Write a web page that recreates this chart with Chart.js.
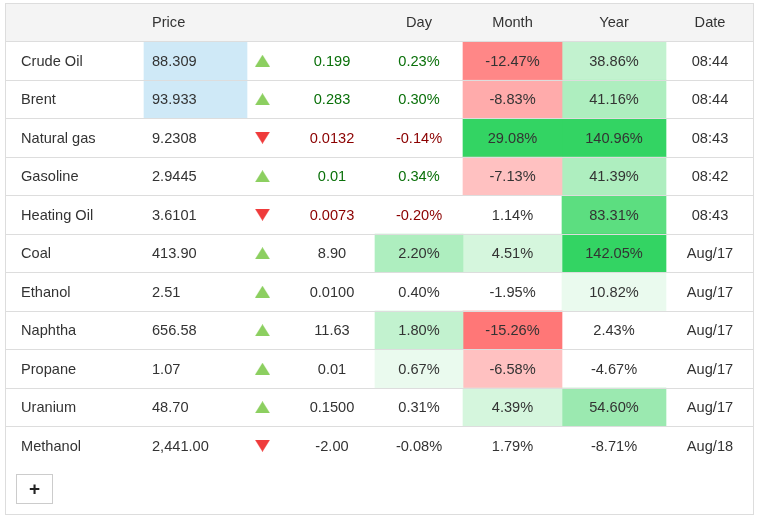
<!DOCTYPE html>
<html><head><meta charset="utf-8">
<script src="https://cdn.jsdelivr.net/npm/chart.js@4/dist/chart.umd.min.js"></script>
<style>html,body{margin:0;padding:0;background:#fff;}#wrap{width:760px;height:519px;}</style>
</head><body><div id="wrap"><canvas id="c" width="760" height="519"></canvas></div>
<script>
// ---------- data ----------
const names = ['Crude Oil','Brent','Natural gas','Gasoline','Heating Oil','Coal','Ethanol','Naphtha','Propane','Uranium','Methanol'];
const prices = ['88.309','93.933','9.2308','2.9445','3.6101','413.90','2.51','656.58','1.07','48.70','2,441.00'];
const changes = ['0.199','0.283','0.0132','0.01','0.0073','8.90','0.0100','11.63','0.01','0.1500','-2.00'];
const direction = [1,1,-1,1,-1,1,1,1,1,1,-1];
const dayPct = [0.23,0.30,-0.14,0.34,-0.20,2.20,0.40,1.80,0.67,0.31,-0.08];
const monthPct = [-12.47,-8.83,29.08,-7.13,1.14,4.51,-1.95,-15.26,-6.58,4.39,1.79];
const yearPct = [38.86,41.16,140.96,41.39,83.31,142.05,10.82,2.43,-4.67,54.60,-8.71];
const dates = ['08:44','08:44','08:43','08:42','08:43','Aug/17','Aug/17','Aug/17','Aug/17','Aug/17','Aug/18'];
const headers = ['', 'Price', '', '', 'Day', 'Month', 'Year', 'Date'];
const priceHighlight = [true,true,false,false,false,false,false,false,false,false,false];
const liveRows = [true,true,true,true,true,false,false,false,false,false,false];
// heat levels (+ green, - red, 0 none)
const dayHeat   = [0,0,0,0,0,4,0,3,1,0,0];
const monthHeat = [-3,-2,7,-1,0,2,0,-4,-1,2,0];
const yearHeat  = [3,4,7,4,6,7,1,0,0,5,0];

// ---------- layout / style ----------
const TABLE_W = 749;
const COL = [0,139,242,284,370,458,557,661,749];
const GREEN = {1:'#eafaee',2:'#d5f6dd',3:'#c2f2cf',4:'#aeeebf',5:'#9be9b0',6:'#5cde80',7:'#33d463'};
const RED = {1:'#ffc1c1',2:'#ffabab',3:'#ff8787',4:'#ff7777'};
const heatColor = l => l > 0 ? GREEN[l] : (l < 0 ? RED[-l] : 'rgba(0,0,0,0)');
const FONT = '14.6px "Liberation Sans", Arial, sans-serif';
const TXT = '#333333', UPTXT = '#0a700a', DNTXT = '#8b0000', LINE = '#dddddd';

function tri(up, color){
  const c = document.createElement('canvas'); c.width = 15; c.height = 12;
  const g = c.getContext('2d'); g.fillStyle = color; g.beginPath();
  if (up){ g.moveTo(0,12); g.lineTo(7.5,0); g.lineTo(15,12); }
  else { g.moveTo(0,0); g.lineTo(15,0); g.lineTo(7.5,12); }
  g.closePath(); g.fill(); return c;
}
const upImg = tri(true,'#8ccf60'), dnImg = tri(false,'#ef3b3b');

const rowLabels = ['header', ...names];
const span = c => [COL[c], COL[c+1]];
const barStyle = {grouped:false, barPercentage:1, categoryPercentage:1, borderWidth:0};
const heatSet = (col, heat) => Object.assign({
  data: [null, ...heat.map(h => h ? span(col) : null)],
  backgroundColor: ctx => heatColor(heat[ctx.dataIndex-1] || 0)
}, barStyle);

const tablePlugin = {
  id:'tableText',
  afterDatasetsDraw(chart){
    const {ctx, chartArea:a, scales:{x, y}} = chart;
    ctx.save();
    // row lines (between categories)
    ctx.fillStyle = LINE;
    for (let i = 1; i < rowLabels.length; i++){
      const yy = (y.getPixelForValue(i-1) + y.getPixelForValue(i)) / 2;
      ctx.fillRect(a.left, Math.floor(yy), a.right - a.left, 1);
    }
    // outer border
    ctx.strokeStyle = LINE; ctx.lineWidth = 1;
    ctx.strokeRect(a.left + 0.5, a.top + 0.5, a.right - a.left - 1, a.bottom - a.top + 49);
    // text
    ctx.font = FONT; ctx.textBaseline = 'middle';
    const cx = c => x.getPixelForValue((COL[c] + COL[c+1]) / 2);
    const lx = (c, pad) => x.getPixelForValue(COL[c]) + pad;
    const hy = y.getPixelForValue(0) + 1;
    ctx.fillStyle = TXT;
    headers.forEach((h, c) => {
      if (!h) return;
      if (c === 1){ ctx.textAlign = 'left'; ctx.fillText(h, lx(1, 8), hy); }
      else { ctx.textAlign = 'center'; ctx.fillText(h, cx(c), hy); }
    });
    names.forEach((n, i) => {
      const yy = y.getPixelForValue(i+1) + 1;
      ctx.fillStyle = TXT; ctx.textAlign = 'left';
      ctx.fillText(n, lx(0, 16), yy);
      ctx.fillText(prices[i], lx(1, 8), yy);
      ctx.textAlign = 'center';
      ctx.fillStyle = liveRows[i] ? (dayPct[i] >= 0 ? UPTXT : DNTXT) : TXT;
      ctx.fillText(changes[i], cx(3), yy);
      ctx.fillText(dayPct[i].toFixed(2) + '%', cx(4), yy);
      ctx.fillStyle = TXT;
      ctx.fillText(monthPct[i].toFixed(2) + '%', cx(5), yy);
      ctx.fillText(yearPct[i].toFixed(2) + '%', cx(6), yy);
      ctx.fillText(dates[i], cx(7), yy);
    });
    // "+" button
    const bx = a.left + 11.5, by = a.bottom + 9.5;
    ctx.strokeStyle = '#cccccc';
    ctx.strokeRect(bx, by, 36, 29);
    ctx.fillStyle = '#222222'; ctx.font = 'bold 19px "Liberation Sans", Arial, sans-serif';
    ctx.textAlign = 'center'; ctx.fillText('+', bx + 18, by + 15);
    ctx.restore();
  }
};

new Chart(document.getElementById('c'), {
  type:'bar',
  data:{
    labels: rowLabels,
    datasets:[
      Object.assign({ data:[[0, TABLE_W], ...names.map(() => null)], backgroundColor:'#f4f4f4' }, barStyle),
      Object.assign({ data:[null, ...priceHighlight.map(p => p ? span(1) : null)], backgroundColor:'#cfe9f7' }, barStyle),
      heatSet(4, dayHeat),
      heatSet(5, monthHeat),
      heatSet(6, yearHeat),
      { type:'scatter', data: names.map((n, i) => ({x: COL[2] + 15.5, y: n})),
        pointStyle: ctx => direction[ctx.dataIndex] > 0 ? upImg : dnImg,
        pointRadius: 8, backgroundColor:'#000', borderWidth:0 }
    ]
  },
  options:{
    indexAxis:'y', responsive:false, animation:false, events:[],
    layout:{autoPadding:false, padding:{left:5, right:6, top:3, bottom:54}},
    plugins:{legend:{display:false}, tooltip:{enabled:false}},
    scales:{
      x:{type:'linear', min:0, max:TABLE_W, display:false},
      y:{type:'category', display:false, offset:true}
    }
  },
  plugins:[tablePlugin]
});
</script></body></html>
